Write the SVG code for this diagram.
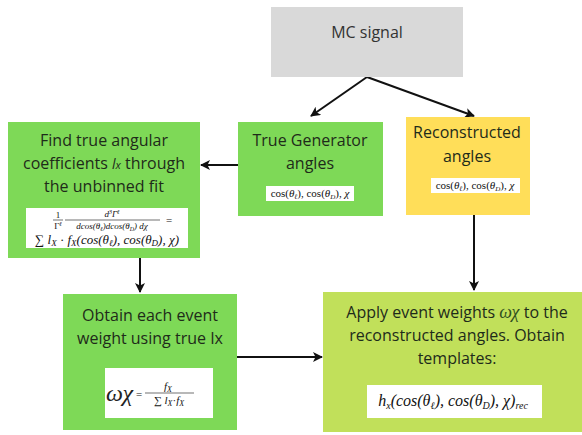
<svg xmlns="http://www.w3.org/2000/svg" width="582" height="435" viewBox="0 0 582 435">
  <defs>
    <marker id="ah" viewBox="0 0 10 10" refX="9" refY="5" markerWidth="5" markerHeight="5" orient="auto">
      <path d="M0,0 L10,5 L0,10 L2.5,5 z" fill="#111"/>
    </marker>
    <style>
      .lbl { font-family: "Open Sans", "Liberation Sans", sans-serif; font-size: 16px; fill: #1e2b1a; text-anchor: middle; }
      .math { font-family: "Liberation Serif", "DejaVu Serif", serif; fill: #111; }
      .mi { font-family: "Liberation Serif", "DejaVu Serif", serif; font-style: italic; fill: #111; }
      .wbox { fill: #ffffff; }
      .conn { stroke: #111; stroke-width: 2; fill: none; marker-end: url(#ah); }
    </style>
  </defs>
  <rect width="582" height="435" fill="#ffffff"/>

  <g id="connectors">
    <path class="conn" d="M367,77 L311,116"/>
    <path class="conn" d="M367,77 L474,116"/>
    <path class="conn" d="M238,165 L201,165"/>
    <path class="conn" d="M140,258 L140,292"/>
    <path class="conn" d="M474,215 L474,290"/>
    <path class="conn" d="M237,357 L322,357"/>
  </g>

  <g id="mc-signal">
    <rect x="271" y="7" width="192" height="70" fill="#d9d9d9"/>
    <text class="lbl" x="367" y="38" style="fill:#333">MC signal</text>
  </g>

  <g id="true-generator">
    <rect x="238" y="122" width="145" height="94" fill="#7ed957"/>
    <text class="lbl" x="310" y="146">True Generator</text>
    <text class="lbl" x="310" y="169">angles</text>
    <rect class="wbox" x="266" y="186" width="88" height="15"/>
    <text class="math" x="310" y="197" font-size="11" text-anchor="middle">cos(<tspan class="mi">θ</tspan><tspan class="mi" font-size="7" dy="2">ℓ</tspan><tspan dy="-2">), cos(</tspan><tspan class="mi">θ</tspan><tspan class="mi" font-size="7" dy="2">D</tspan><tspan dy="-2">), </tspan><tspan class="mi">χ</tspan></text>
  </g>

  <g id="reconstructed">
    <rect x="406" y="117" width="124" height="98" fill="#ffde59"/>
    <text class="lbl" x="467" y="138">Reconstructed</text>
    <text class="lbl" x="467" y="162">angles</text>
    <rect class="wbox" x="431" y="178" width="89" height="15"/>
    <text class="math" x="475" y="189" font-size="11" text-anchor="middle">cos(<tspan class="mi">θ</tspan><tspan class="mi" font-size="7" dy="2">ℓ</tspan><tspan dy="-2">), cos(</tspan><tspan class="mi">θ</tspan><tspan class="mi" font-size="7" dy="2">D</tspan><tspan dy="-2">), </tspan><tspan class="mi">χ</tspan></text>
  </g>

  <g id="unbinned-fit">
    <rect x="8" y="122" width="192" height="136" fill="#7ed957"/>
    <text class="lbl" x="104" y="146">Find true angular</text>
    <text class="lbl" x="104" y="169">coefficients <tspan font-style="italic" font-size="14">l</tspan><tspan font-style="italic" font-size="11">x</tspan> through</text>
    <text class="lbl" x="104" y="192">the unbinned fit</text>
    <rect class="wbox" x="26" y="208" width="162" height="40"/>
    <!-- differential rate fraction -->
    <text class="math" x="58" y="218" font-size="9" text-anchor="middle">1</text>
    <line x1="53" y1="220" x2="63" y2="220" stroke="#111" stroke-width="0.6"/>
    <text class="math" x="58" y="229" font-size="9" text-anchor="middle">Γ<tspan class="mi" font-size="6" dy="-3">ℓ</tspan></text>
    <text class="mi" x="112" y="217" font-size="9" text-anchor="middle">d<tspan font-size="6" dy="-3">3</tspan><tspan dy="3">Γ</tspan><tspan font-size="6" dy="-3">ℓ</tspan></text>
    <line x1="65" y1="220" x2="160" y2="220" stroke="#111" stroke-width="0.6"/>
    <text class="mi" x="112" y="229" font-size="9" text-anchor="middle">dcos(θ<tspan font-size="6" dy="1.5">ℓ</tspan><tspan dy="-1.5">)dcos(θ</tspan><tspan font-size="6" dy="1.5">D</tspan><tspan dy="-1.5">) dχ</tspan></text>
    <text class="math" x="166" y="224" font-size="11">=</text>
    <text class="mi" x="107" y="244" font-size="13" text-anchor="middle"><tspan font-style="normal">∑ </tspan>l<tspan font-size="9" dy="2">X</tspan><tspan dy="-2" font-style="normal"> · </tspan>f<tspan font-size="9" dy="2">X</tspan><tspan dy="-2">(cos(θ</tspan><tspan font-size="9" dy="2">ℓ</tspan><tspan dy="-2">), cos(θ</tspan><tspan font-size="9" dy="2">D</tspan><tspan dy="-2">), χ)</tspan></text>
  </g>

  <g id="event-weight">
    <rect x="63" y="294" width="174" height="136" fill="#7ed957"/>
    <text class="lbl" x="150" y="321">Obtain each event</text>
    <text class="lbl" x="150" y="344">weight using true Ix</text>
    <rect class="wbox" x="105" y="368" width="108" height="50"/>
    <text class="mi" x="106" y="401" font-size="24" style="fill:#222">ωχ</text>
    <text class="math" x="136" y="398" font-size="11">=</text>
    <text class="mi" x="168" y="390" font-size="11" text-anchor="middle">f<tspan font-size="8" dy="2">X</tspan></text>
    <line x1="145" y1="393" x2="194" y2="393" stroke="#111" stroke-width="0.6"/>
    <text class="mi" x="169" y="404" font-size="11" text-anchor="middle"><tspan font-style="normal">∑ </tspan>l<tspan font-size="8" dy="2">X</tspan><tspan dy="-2" font-style="normal">·</tspan>f<tspan font-size="8" dy="2">X</tspan></text>
  </g>

  <g id="templates">
    <rect x="323" y="292" width="259" height="140" fill="#c1e05a"/>
    <text class="lbl" x="457" y="318">Apply event weights <tspan class="mi" font-size="18" style="fill:#2f4f1f">ωχ</tspan> to the</text>
    <text class="lbl" x="457" y="341">reconstructed angles. Obtain</text>
    <text class="lbl" x="457" y="364">templates:</text>
    <rect class="wbox" x="367" y="385" width="175" height="33"/>
    <text class="mi" x="453" y="406" font-size="16" text-anchor="middle">h<tspan font-size="10" dy="3">x</tspan><tspan dy="-3">(cos(θ</tspan><tspan font-size="10" dy="3">ℓ</tspan><tspan dy="-3">), cos(θ</tspan><tspan font-size="10" dy="3">D</tspan><tspan dy="-3">), χ)</tspan><tspan font-size="10" dy="3">rec</tspan></text>
  </g>
</svg>
